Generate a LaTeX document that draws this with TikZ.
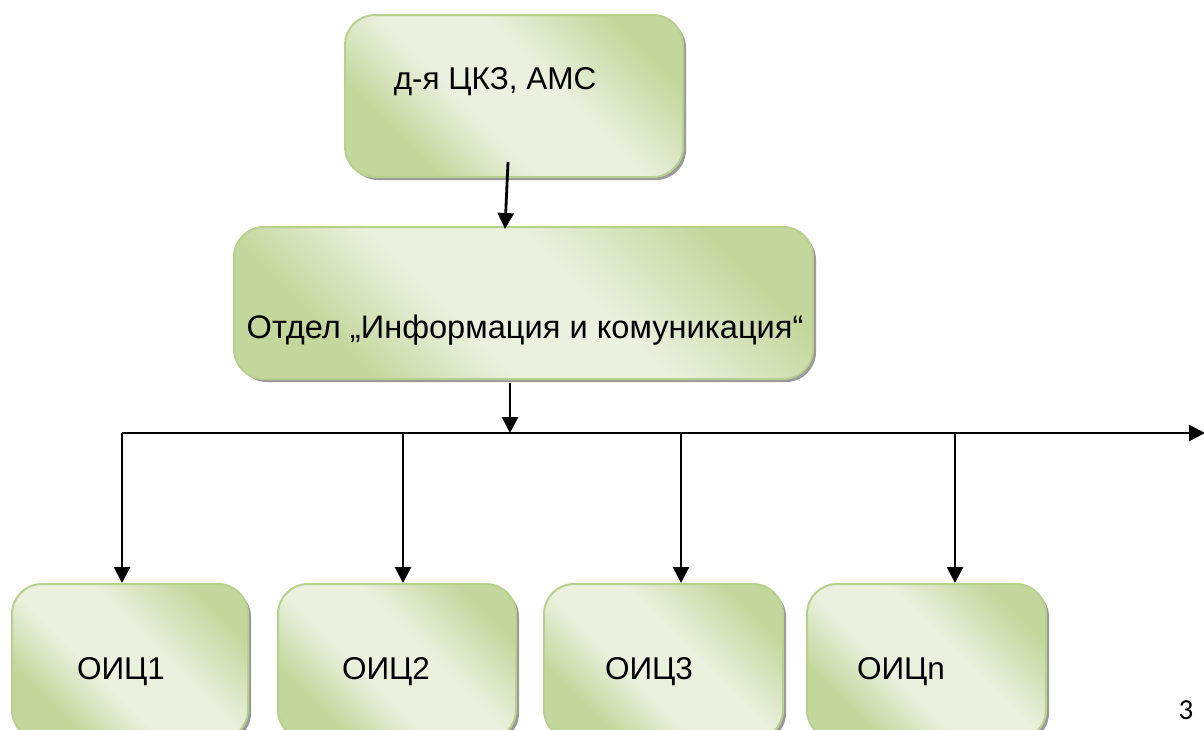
\documentclass[tikz,border=0pt]{standalone}
\usepackage{fontspec}
\setmainfont{Liberation Sans}
\newfontfamily\pagefont{Carlito}
\usetikzlibrary{arrows.meta,shadows}
\definecolor{gdark}{HTML}{C3D79C}
\definecolor{glight}{HTML}{EAF1DF}
\definecolor{gborder}{HTML}{B8D08E}
\pgfdeclareverticalshading{gmirror}{100bp}{color(0bp)=(gdark); color(28bp)=(gdark); color(42bp)=(glight); color(57bp)=(glight); color(75bp)=(gdark); color(100bp)=(gdark)}
\tikzset{
  x=1pt, y=1pt,
  gbox/.style={draw=gborder, line width=2pt, rounded corners=30pt,
    shading=gmirror, shading angle=-45,
    drop shadow={shadow xshift=3pt, shadow yshift=-3pt, fill=black!40, opacity=1},
    inner sep=0pt},
  lbl/.style={font=\fontsize{31.5}{36}\selectfont, anchor=base, inner sep=0pt},
  conn/.style={line width=2.8pt, -{Triangle[length=16pt,width=16pt]}},
}
\begin{document}
\begin{tikzpicture}
\useasboundingbox (0,0) rectangle (1204,-729);
% boxes
\node[gbox, minimum width=338pt, minimum height=162pt] (top) at (514,-96) {};
\node[lbl] (toptext) at (495,-89) {д-я ЦКЗ, АМС};
\node[gbox, minimum width=579pt, minimum height=152pt] (mid) at (523.5,-303) {};
\node[lbl, font=\fontsize{32.6}{37}\selectfont] (midtext) at (525,-338) {Отдел „Информация и комуникация“};
\node[gbox, minimum width=236pt, minimum height=156pt] (o1) at (130,-662) {};
\node[lbl] (o1t) at (121,-679) {ОИЦ1};
\node[gbox, minimum width=238pt, minimum height=156pt] (o2) at (397,-662) {};
\node[lbl] (o2t) at (386,-679) {ОИЦ2};
\node[gbox, minimum width=239pt, minimum height=156pt] (o3) at (663.5,-662) {};
\node[lbl] (o3t) at (649,-679) {ОИЦ3};
\node[gbox, minimum width=239pt, minimum height=156pt] (on) at (926.5,-662) {};
\node[lbl] (ont) at (901,-679) {ОИЦn};
\node[font=\pagefont\fontsize{29}{32}\selectfont, anchor=base, inner sep=0pt] (pg) at (1186,-719) {3};
% connectors
\coordinate (s1) at (508,-162);
\coordinate (e1) at (505,-229);
\draw[conn] (s1) -- (e1);
\coordinate (s2) at (510,-383);
\coordinate (bus) at (510,-433);
\draw[conn] (s2) -- (bus);
\coordinate (bl) at (122,-433);
\coordinate (br) at (1205,-433);
\draw[conn] (bl) -- (br);
\coordinate (b2) at (403,-433);
\coordinate (b3) at (681,-433);
\coordinate (b4) at (955,-433);
\draw[conn] (bl) -- (bl |- o1.north);
\draw[conn] (b2) -- (b2 |- o2.north);
\draw[conn] (b3) -- (b3 |- o3.north);
\draw[conn] (b4) -- (b4 |- on.north);
\end{tikzpicture}
\end{document}
